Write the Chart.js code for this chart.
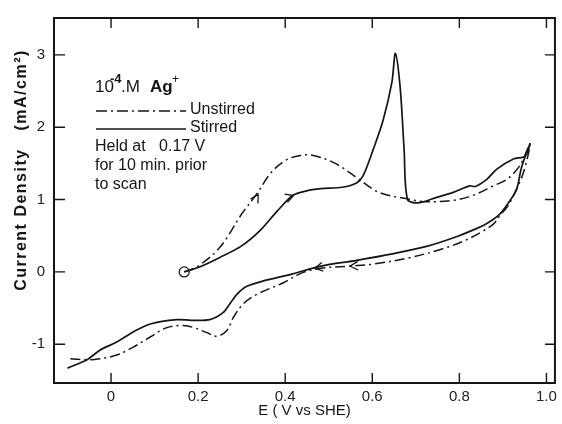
<!DOCTYPE html>
<html>
<head>
<meta charset="utf-8">
<script src="https://cdn.jsdelivr.net/npm/chart.js@4.4.1/dist/chart.umd.min.js"></script>
<style>
  body { margin: 0; background: #fff; }
</style>
</head>
<body>
<canvas id="cvChart" width="562" height="424"></canvas>
<script>
// unstirred scan (dash-dot): forward from 0.17 V up to 0.96 V, then back down
const unstirredE = [0.168, 0.20, 0.25, 0.30, 0.335, 0.366, 0.40, 0.435, 0.465, 0.515, 0.565, 0.615, 0.68, 0.725, 0.786, 0.832, 0.878, 0.909, 0.939, 0.962,
  0.947, 0.926, 0.91, 0.893, 0.878, 0.85, 0.811, 0.762, 0.688, 0.605, 0.547, 0.482, 0.44, 0.396, 0.335, 0.304, 0.281, 0.266, 0.243, 0.22,
  0.19, 0.167, 0.128, 0.09, 0.051, 0.013, -0.038, -0.071, -0.096];
const unstirredJ = [0.0, 0.08, 0.34, 0.80, 1.08, 1.36, 1.54, 1.61, 1.61, 1.50, 1.30, 1.10, 1.01, 0.97, 0.99, 1.06, 1.19, 1.28, 1.47, 1.77,
  1.37, 1.08, 0.90, 0.78, 0.66, 0.55, 0.43, 0.32, 0.20, 0.11, 0.08, 0.05, -0.01, -0.15, -0.31, -0.44, -0.63, -0.81, -0.89, -0.84,
  -0.77, -0.74, -0.77, -0.90, -1.04, -1.15, -1.21, -1.21, -1.20];

// stirred scan (solid)
const stirredE = [0.168, 0.20, 0.25, 0.30, 0.342, 0.383, 0.418, 0.449, 0.482, 0.531, 0.564, 0.579, 0.602, 0.625, 0.645, 0.653, 0.664, 0.673, 0.681, 0.706,
  0.748, 0.786, 0.824, 0.836, 0.863, 0.886, 0.924, 0.951, 0.962,
  0.943, 0.932, 0.918, 0.893, 0.86, 0.824, 0.795, 0.729, 0.646, 0.564, 0.482, 0.416, 0.35, 0.312, 0.289, 0.273, 0.258, 0.227,
  0.185, 0.151, 0.09, 0.051, 0.013, -0.025, -0.054, -0.10];
const stirredJ = [0.0, 0.06, 0.20, 0.36, 0.57, 0.85, 1.06, 1.12, 1.15, 1.17, 1.23, 1.33, 1.69, 2.10, 2.62, 3.02, 2.55, 1.70, 1.00, 0.955,
  1.03, 1.10, 1.19, 1.18, 1.28, 1.42, 1.56, 1.60, 1.77,
  1.45, 1.15, 1.00, 0.80, 0.66, 0.56, 0.49, 0.36, 0.25, 0.16, 0.08, -0.03, -0.125, -0.20, -0.31, -0.44, -0.56, -0.66,
  -0.67, -0.66, -0.72, -0.83, -0.97, -1.08, -1.21, -1.33];

const startPoint = [0.168, 0.0];

// scan direction arrows: [E, J, E toward, J toward]
const arrowMarks = [
  [0.338, 1.07, 0.366, 1.36],
  [0.419, 1.056, 0.449, 1.12],
  [0.549, 0.078, 0.482, 0.05],
  [0.468, 0.05, 0.416, -0.01]
];

const xTicks = [0, 0.2, 0.4, 0.6, 0.8, 1.0];
const xTickLabels = ["0", "0.2", "0.4", "0.6", "0.8", "1.0"];
const yTicks = [-1, 0, 1, 2, 3];
const yTickLabels = ["-1", "0", "1", "2", "3"];

const pts = (xs, ys) => xs.map((x, i) => ({ x: x, y: ys[i] }));
const INK = "#151515";
const FONT = "'Liberation Sans', Arial, sans-serif";

const framePlugin = {
  id: "frame",
  afterDraw(chart) {
    const ctx = chart.ctx;
    const a = chart.chartArea;
    const sx = chart.scales.x, sy = chart.scales.y;
    ctx.save();
    ctx.strokeStyle = INK;
    ctx.lineWidth = 2;
    ctx.strokeRect(a.left, a.top, a.right - a.left, a.bottom - a.top);

    // inward ticks on all four sides
    ctx.lineWidth = 1.4;
    ctx.beginPath();
    xTicks.forEach(v => {
      const px = sx.getPixelForValue(v);
      ctx.moveTo(px, a.bottom); ctx.lineTo(px, a.bottom - 10);
      ctx.moveTo(px, a.top); ctx.lineTo(px, a.top + 10);
    });
    yTicks.forEach(v => {
      const py = sy.getPixelForValue(v);
      ctx.moveTo(a.left, py); ctx.lineTo(a.left + 11, py);
      ctx.moveTo(a.right, py); ctx.lineTo(a.right - 10, py);
    });
    ctx.stroke();

    // arrows along the scans
    ctx.lineWidth = 1.3;
    arrowMarks.forEach(m => {
      const x = sx.getPixelForValue(m[0]), y = sy.getPixelForValue(m[1]);
      const ang = Math.atan2(sy.getPixelForValue(m[3]) - y, sx.getPixelForValue(m[2]) - x);
      ctx.beginPath();
      ctx.moveTo(x - 9 * Math.cos(ang - 0.5), y - 9 * Math.sin(ang - 0.5));
      ctx.lineTo(x, y);
      ctx.lineTo(x - 9 * Math.cos(ang + 0.5), y - 9 * Math.sin(ang + 0.5));
      ctx.stroke();
    });

    // y axis title
    ctx.fillStyle = INK;
    ctx.save();
    ctx.translate(22, 170);
    ctx.rotate(-Math.PI / 2);
    ctx.font = "bold 16px " + FONT;
    ctx.letterSpacing = "1.5px";
    ctx.textAlign = "center";
    ctx.textBaseline = "middle";
    ctx.fillText("Current Density   (mA/cm²)", 0, 0);
    ctx.restore();

    // annotation block
    ctx.textBaseline = "alphabetic";
    ctx.textAlign = "left";
    ctx.font = "17px " + FONT;
    ctx.fillText("10", 95, 92);
    ctx.font = "bold 13px " + FONT;
    ctx.fillText("-4", 110, 83);
    ctx.font = "17px " + FONT;
    ctx.fillText(".M", 121, 92);
    ctx.font = "bold 17px " + FONT;
    ctx.fillText("Ag", 150, 92);
    ctx.font = "12px " + FONT;
    ctx.fillText("+", 172, 83);

    ctx.font = "16px " + FONT;
    ctx.fillText("Unstirred", 190, 114);
    ctx.fillText("Stirred", 190, 132);
    ctx.fillText("Held at   0.17 V", 95, 151);
    ctx.fillText("for 10 min. prior", 95, 170);
    ctx.fillText("to scan", 95, 189);

    ctx.lineWidth = 1.5;
    ctx.setLineDash([11, 4, 2, 4]);
    ctx.beginPath(); ctx.moveTo(96, 111); ctx.lineTo(186, 111); ctx.stroke();
    ctx.setLineDash([]);
    ctx.beginPath(); ctx.moveTo(96, 129); ctx.lineTo(186, 129); ctx.stroke();
    ctx.restore();
  }
};

const ctx = document.getElementById("cvChart").getContext("2d");
const cvChart = new Chart(ctx, {
  type: "scatter",
  data: {
    datasets: [
      {
        label: "Unstirred",
        data: pts(unstirredE, unstirredJ),
        showLine: true,
        borderColor: INK,
        borderWidth: 1.5,
        borderDash: [10, 4, 2, 4],
        pointRadius: 0,
        tension: 0.35
      },
      {
        label: "Stirred",
        data: pts(stirredE, stirredJ),
        showLine: true,
        borderColor: INK,
        borderWidth: 1.7,
        pointRadius: 0,
        tension: 0.3
      },
      {
        label: "start",
        data: [{ x: startPoint[0], y: startPoint[1] }],
        pointRadius: 5,
        pointBorderWidth: 1.3,
        pointBorderColor: INK,
        pointBackgroundColor: "rgba(0,0,0,0)"
      }
    ]
  },
  options: {
    responsive: false,
    animation: false,
    layout: { padding: { top: 13, right: 7, left: 0, bottom: 0 } },
    plugins: { legend: { display: false }, tooltip: { enabled: false } },
    scales: {
      x: {
        type: "linear",
        min: -0.131,
        max: 1.0195,
        grid: { display: false, drawTicks: false },
        border: { display: false },
        afterBuildTicks: s => { s.ticks = xTicks.map(v => ({ value: v })); },
        afterFit: s => { s.height = 41; },
        ticks: {
          autoSkip: false,
          maxRotation: 0,
          padding: 5,
          color: "#222",
          font: { family: FONT, size: 15 },
          callback: (v, i) => xTickLabels[i]
        },
        title: {
          display: true,
          text: "E ( V vs SHE)",
          color: INK,
          font: { family: FONT, size: 15 },
          padding: { top: 0, bottom: 4 }
        }
      },
      y: {
        type: "linear",
        min: -1.536,
        max: 3.51,
        grid: { display: false, drawTicks: false },
        border: { display: false },
        afterBuildTicks: s => { s.ticks = yTicks.map(v => ({ value: v })); },
        afterFit: s => { s.width = 54; },
        ticks: {
          autoSkip: false,
          padding: 9,
          color: "#222",
          font: { family: FONT, size: 15 },
          callback: (v, i) => yTickLabels[i]
        }
      }
    }
  },
  plugins: [framePlugin]
});
</script>
</body>
</html>
